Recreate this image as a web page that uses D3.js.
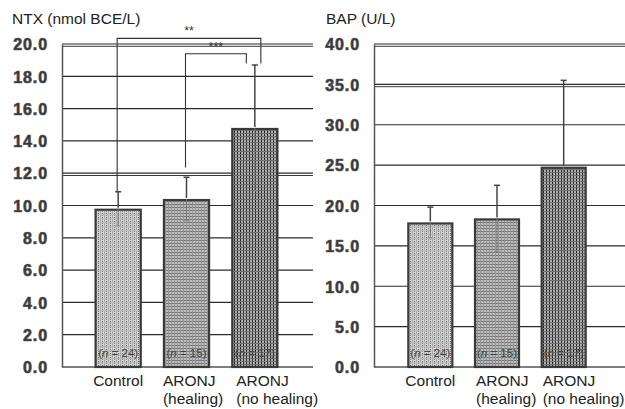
<!DOCTYPE html>
<html>
<head>
<meta charset="utf-8">
<script src="https://cdn.jsdelivr.net/npm/d3@7"></script>
<style>
  html, body { margin: 0; padding: 0; background: #fff; }
  svg { display: block; font-family: "Liberation Sans", Arial, sans-serif; }
</style>
</head>
<body>
<svg id="chart" width="625" height="409"></svg>
<script>
// ---- data ----
const categoryLines = [["Control"], ["ARONJ", "(healing)"], ["ARONJ", "(no healing)"]];
const groupN = [24, 15, 17];

const ntxMean = [9.8, 10.4, 14.8];
const ntxSD = [1.05, 1.35, 3.9];
const ntxTicks = [0, 2, 4, 6, 8, 10, 12, 14, 16, 18, 20];

const bapMean = [17.9, 18.4, 24.8];
const bapSD = [1.9, 4.1, 10.7];
const bapTicks = [0, 5, 10, 15, 20, 25, 30, 35, 40];

// significance brackets for NTX: groups compared, bracket height and leg ends (in NTX units)
const ntxSigPairs = [[0, 2], [1, 2]];
const ntxSigLabels = ["**", "***"];
const ntxSigLevel = [20.35, 19.4];
const ntxSigLegA = [10.9, 12.35];
const ntxSigLegB = [18.8, 18.8];

// ---- drawing ----
const svg = d3.select("#chart");
const defs = svg.append("defs");

function addPattern(id, w, h, base, marks) {
  const p = defs.append("pattern").attr("id", id)
    .attr("patternUnits", "userSpaceOnUse").attr("width", w).attr("height", h);
  p.append("rect").attr("width", w).attr("height", h).attr("fill", base);
  marks.forEach(m => p.append("rect").attr("x", m[0]).attr("y", m[1])
    .attr("width", m[2]).attr("height", m[3]).attr("fill", m[4]));
}
addPattern("fillControl", 4, 4, "#d4d4d4", [
  [0, 0, 1, 4, "#a8a8a8"], [2, 1, 1, 1, "#666"], [2, 3, 1, 1, "#808080"], [0, 2, 4, 1, "#bdbdbd"]
]);
addPattern("fillHealing", 3, 3, "#bdbdbd", [
  [0, 0, 3, 1, "#747474"], [0, 0, 1, 3, "#959595"]
]);
addPattern("fillNoHealing", 3, 3, "#b0b0b0", [
  [0, 0, 1, 3, "#262626"], [0, 1, 3, 1, "#707070"]
]);
const fills = ["url(#fillControl)", "url(#fillHealing)", "url(#fillNoHealing)"];

const y0 = 367, y1 = 44;
const gridDouble = { ntx: [20, 12], bap: [40, 35] };

function drawPanel(opt) {
  const g = svg.append("g");
  const y = d3.scaleLinear().domain([0, opt.ticks[opt.ticks.length - 1]]).range([y0, y1]);
  const x = d3.scaleBand().domain(d3.range(opt.mean.length))
    .range(opt.bandRange).paddingInner(0.31).paddingOuter(0.155);

  // title
  g.append("text").attr("x", opt.titleX).attr("y", 24)
    .attr("font-size", "15.5px").attr("fill", "#222").text(opt.title);

  // gridlines
  const grid = g.append("g");
  opt.ticks.forEach(t => {
    if (t === 0) return;
    grid.append("line").attr("x1", opt.plotX[0]).attr("x2", opt.plotX[1])
      .attr("y1", y(t)).attr("y2", y(t)).attr("stroke", "#2a2a2a").attr("stroke-width", 1.2);
    if (opt.doubled.includes(t)) {
      grid.append("line").attr("x1", opt.plotX[0]).attr("x2", opt.plotX[1])
        .attr("y1", y(t) + 2.3).attr("y2", y(t) + 2.3).attr("stroke", "#3a3a3a").attr("stroke-width", 1);
    }
  });

  // y axis with bold tick labels
  const axis = d3.axisLeft(y).tickValues(opt.ticks).tickFormat(d3.format(".1f")).tickSize(0).tickPadding(14);
  const ax = g.append("g").attr("transform", `translate(${opt.plotX[0]},0)`).call(axis);
  ax.select(".domain").attr("stroke", "#555").attr("stroke-width", 1.5);
  ax.selectAll("text").attr("font-size", "16px").attr("font-weight", "bold")
    .attr("font-family", "'Liberation Sans', Arial, sans-serif")
    .attr("fill", "#333").attr("stroke", "#555").attr("stroke-width", 0.7)
    .attr("letter-spacing", "0.9px").attr("dy", "0.36em");

  // baseline
  g.append("line").attr("x1", opt.plotX[0]).attr("x2", opt.plotX[1])
    .attr("y1", y(0)).attr("y2", y(0)).attr("stroke", "#555").attr("stroke-width", 1.5);

  // bars
  const bars = g.append("g");
  opt.mean.forEach((m, i) => {
    const bx = x(i), bw = x.bandwidth();
    bars.append("rect").attr("x", bx + 1).attr("y", y(m) + 1)
      .attr("width", bw - 2).attr("height", y(0) - y(m) - 1)
      .attr("fill", fills[i]).attr("stroke", "#3a3a3a").attr("stroke-width", 2.2);
    const cx = bx + bw / 2;
    // lower whisker, visible through the fill
    bars.append("line").attr("x1", cx).attr("x2", cx)
      .attr("y1", y(m)).attr("y2", y(m - opt.sd[i]))
      .attr("stroke", "#777").attr("stroke-width", 1);
    bars.append("line").attr("x1", cx - 2.5).attr("x2", cx + 2.5)
      .attr("y1", y(m - opt.sd[i])).attr("y2", y(m - opt.sd[i]))
      .attr("stroke", "#888").attr("stroke-width", 1);
    // upper whisker
    bars.append("line").attr("x1", cx).attr("x2", cx)
      .attr("y1", y(m) - 1).attr("y2", y(m + opt.sd[i]))
      .attr("stroke", "#444").attr("stroke-width", 1.5);
    bars.append("line").attr("x1", cx - 3).attr("x2", cx + 3)
      .attr("y1", y(m + opt.sd[i])).attr("y2", y(m + opt.sd[i]))
      .attr("stroke", "#444").attr("stroke-width", 1.5);

    // n label inside bar
    const nt = bars.append("text").attr("x", cx).attr("y", 357).attr("text-anchor", "middle")
      .attr("font-size", "11.5px").attr("fill", "#444");
    nt.append("tspan").text("(");
    nt.append("tspan").attr("font-style", "italic").text("n");
    nt.append("tspan").text(" = " + groupN[i] + ")");

    // category label
    const lines = categoryLines[i];
    const lab = g.append("text").attr("font-size", "15.5px").attr("fill", "#222");
    const single = lines.length === 1;
    const lx = single ? cx : bx + opt.labelDx[i];
    lab.attr("text-anchor", single ? "middle" : "start");
    lines.forEach((t, k) => lab.append("tspan").attr("x", lx).attr("y", 386 + k * 17.5).text(t));
  });

  return { x, y, g };
}

const ntx = drawPanel({
  title: "NTX (nmol BCE/L)", titleX: 12, mean: ntxMean, sd: ntxSD, ticks: ntxTicks,
  plotX: [62, 313], bandRange: [84, 289], doubled: gridDouble.ntx, labelDx: [0, 0, 5]
});
drawPanel({
  title: "BAP (U/L)", titleX: 326, mean: bapMean, sd: bapSD, ticks: bapTicks,
  plotX: [374, 625], bandRange: [397, 597], doubled: gridDouble.bap, labelDx: [2, 2, 2]
});

// significance brackets on the NTX panel
const legShift = [[-1, 6], [-1, -8.5]];
const sig = ntx.g.append("g");
ntxSigPairs.forEach((pr, k) => {
  const xa = ntx.x(pr[0]) + ntx.x.bandwidth() / 2 + legShift[k][0];
  const xb = ntx.x(pr[1]) + ntx.x.bandwidth() / 2 + legShift[k][1];
  const yl = ntx.y(ntxSigLevel[k]);
  sig.append("path")
    .attr("d", `M${xa},${ntx.y(ntxSigLegA[k])}V${yl}H${xb}V${ntx.y(ntxSigLegB[k])}`)
    .attr("fill", "none").attr("stroke", "#333").attr("stroke-width", 1.1);
  sig.append("text").attr("x", (xa + xb) / 2).attr("y", yl - 3).attr("text-anchor", "middle")
    .attr("font-size", "12.5px").attr("fill", "#333").text(ntxSigLabels[k]);
});
</script>
</body>
</html>
